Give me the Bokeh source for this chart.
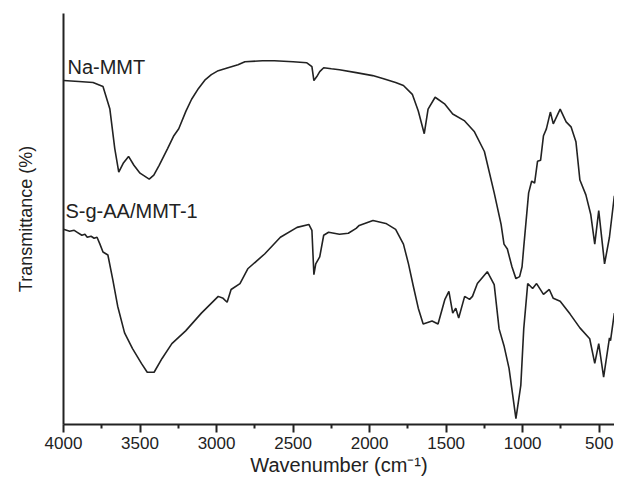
from bokeh.plotting import figure
from bokeh.models import Range1d, FixedTicker, Label, LinearAxis
from bokeh.embed import file_html
from bokeh.resources import INLINE

# ---- data ----
na_wn = [4000, 3900, 3807, 3742, 3697, 3665, 3639, 3610, 3575, 3540, 3500, 3440, 3410, 3375, 3320,
         3279, 3247, 3200, 3163, 3118, 3073, 3034, 2989, 2925, 2860, 2815, 2700, 2622, 2500, 2410,
         2377, 2364, 2345, 2326, 2300, 2250, 2197, 2088, 1980, 1914, 1830, 1779, 1721, 1682, 1643,
         1618, 1572, 1508, 1457, 1379, 1315, 1250, 1186, 1141, 1122, 1100, 1070, 1044, 1020, 1004,
         993, 961, 941, 922, 903, 883, 864, 845, 819, 800, 755, 716, 684, 652, 626,
         587, 555, 529, 503, 465, 433, 401]
na_T = [349, 348, 347, 343, 320, 280, 256, 265, 272, 263, 255, 249, 253, 263, 280,
        293, 300, 318, 330, 341, 350, 355, 359, 362, 365, 368, 369, 369, 368, 367,
        363, 349, 353, 358, 362, 361, 360, 357, 354, 351, 347, 344, 335, 318, 295,
        320, 332, 325, 315, 308, 297, 277, 235, 203, 183, 178, 160, 148, 150, 160,
        180, 235, 247, 245, 267, 268, 293, 300, 317, 305, 320, 307, 302, 287, 248,
        233, 213, 183, 217, 163, 190, 232]

s_wn = [4000, 3960, 3930, 3910, 3880, 3860, 3845, 3820, 3800, 3781, 3762, 3742, 3710, 3678, 3646,
        3601, 3549, 3491, 3453, 3408, 3356, 3292, 3202, 3099, 2989, 2957, 2931, 2905, 2847, 2796,
        2686, 2583, 2474, 2397, 2377, 2364, 2352, 2326, 2300, 2268, 2197, 2139, 2088, 2068, 1978,
        1894, 1830, 1779, 1746, 1714, 1682, 1650, 1592, 1553, 1508, 1482, 1457, 1437, 1418, 1379,
        1347, 1328, 1296, 1231, 1186, 1154, 1122, 1089, 1044, 1012, 993, 967, 935, 909, 864,
        826, 800, 755, 690, 626, 562, 529, 503, 471, 433, 426, 401]
s_T = [198, 196, 197, 195, 192, 193, 190, 191, 189, 190, 183, 175, 172, 147, 120,
       93, 77, 62, 53, 53, 67, 82, 95, 113, 130, 128, 124, 137, 143, 158,
       173, 190, 200, 203, 197, 152, 163, 170, 192, 195, 193, 194, 199, 202, 207,
       204, 198, 183, 163, 140, 118, 102, 105, 102, 127, 135, 113, 118, 108, 130,
       127, 130, 143, 155, 142, 97, 80, 57, 6, 40, 97, 143, 138, 143, 132,
       137, 128, 125, 112, 98, 87, 62, 82, 48, 88, 85, 113]

x_major = [4000, 3500, 3000, 2500, 2000, 1500, 1000, 500]
x_minor = [3750, 3250, 2750, 2250, 1750, 1250, 750]
labels = ["Na-MMT", "S-g-AA/MMT-1"]
label_x = [3974, 3987]
label_y = [363, 217]

assert len(na_wn) == len(na_T) and len(s_wn) == len(s_T)

FONT = "Liberation Sans"
INK = "#222222"

p = figure(width=614, height=479, output_backend="svg", toolbar_location=None,
           x_range=Range1d(4000, 400), y_range=Range1d(0, 417),
           min_border_left=63, min_border_right=0, min_border_top=13, min_border_bottom=55,
           x_axis_location=None, y_axis_location=None)
p.outline_line_color = None
p.xgrid.visible = False
p.ygrid.visible = False
p.background_fill_color = "white"

xa = LinearAxis(ticker=FixedTicker(ticks=x_major, minor_ticks=x_minor))
xa.axis_line_width = 2
xa.axis_line_color = INK
xa.major_tick_line_width = 2
xa.major_tick_line_color = INK
xa.minor_tick_line_width = 2
xa.minor_tick_line_color = INK
xa.major_tick_in = 0
xa.major_tick_out = 8
xa.minor_tick_in = 0
xa.minor_tick_out = 4
xa.major_label_text_font = FONT
xa.major_label_text_font_size = "17px"
xa.major_label_text_color = INK
xa.major_label_standoff = 4
xa.axis_label = "Wavenumber (cm\u207b\u00b9)"
xa.axis_label_text_font = FONT
xa.axis_label_text_font_size = "20px"
xa.axis_label_text_font_style = "normal"
xa.axis_label_text_color = INK
xa.axis_label_standoff = 2
p.add_layout(xa, "below")

ya = LinearAxis(ticker=FixedTicker(ticks=[]))
ya.axis_line_width = 2
ya.axis_line_color = INK
ya.major_tick_line_color = None
ya.minor_tick_line_color = None
ya.major_label_text_font_size = "0px"
ya.axis_label = "Transmittance (%)"
ya.axis_label_text_font = FONT
ya.axis_label_text_font_size = "18px"
ya.axis_label_text_font_style = "normal"
ya.axis_label_text_color = INK
ya.axis_label_standoff = 28
p.add_layout(ya, "left")

p.line(na_wn, na_T, line_color=INK, line_width=1.6)
p.line(s_wn, s_T, line_color=INK, line_width=1.6)

for t, lx, ly in zip(labels, label_x, label_y):
    p.add_layout(Label(x=lx, y=ly, text=t, text_font=FONT, text_font_size="20px",
                       text_color=INK, text_baseline="alphabetic"))

open("out.html", "w").write(file_html(p, INLINE))
